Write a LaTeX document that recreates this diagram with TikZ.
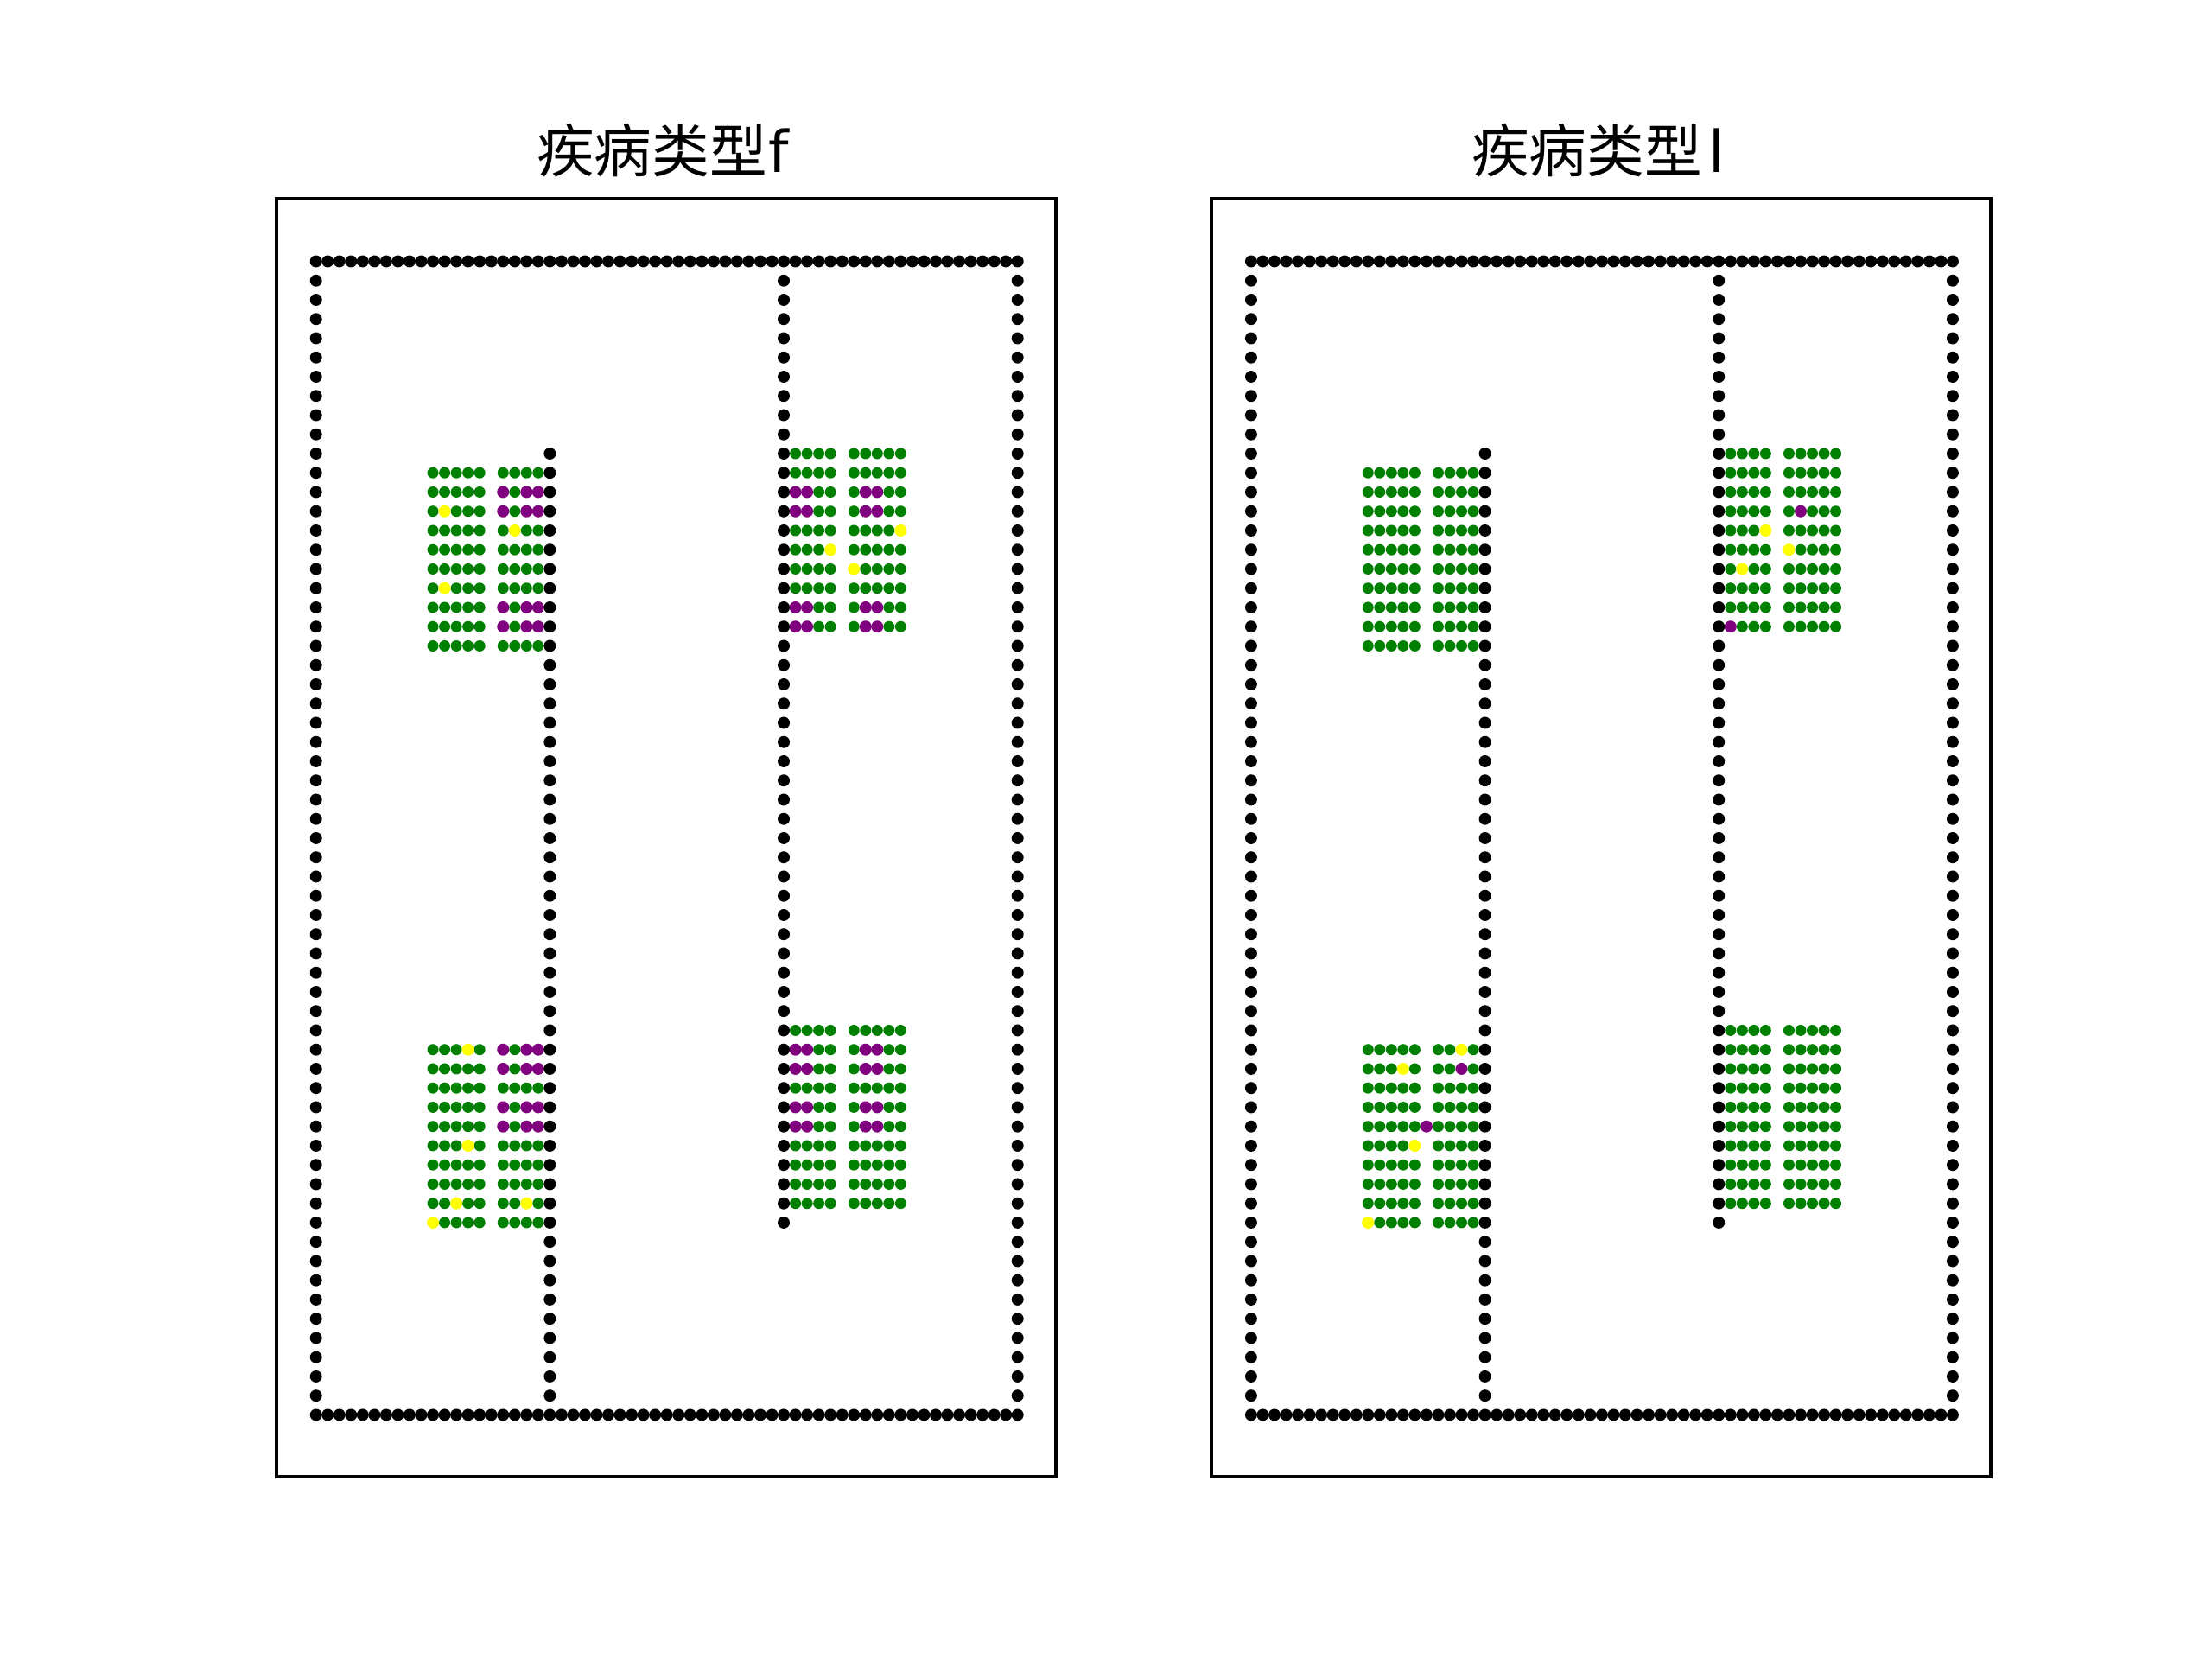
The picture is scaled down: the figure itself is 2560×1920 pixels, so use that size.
\documentclass[tikz,border=0pt]{standalone}
\usepackage{fontspec}
\newfontfamily\cjk{Noto Sans CJK SC}
\newfontfamily\latinpart{DejaVu Sans}
\definecolor{mplgreen}{HTML}{008000}
\definecolor{mplpurple}{HTML}{800080}
\definecolor{mplyellow}{HTML}{FFFF00}
\tikzset{
  frame/.style={draw=black,line width=0.9bp,fill=white},
  titletext/.style={font=\cjk\fontsize{15bp}{18bp}\selectfont,inner sep=0pt,anchor=center},
  gdot/.style={fill=mplgreen,radius=1.46bp},
  pdot/.style={fill=mplpurple,radius=1.57bp},
  ydot/.style={fill=mplyellow,radius=1.57bp},
  kdot/.style={fill=black,radius=1.57bp},
  cell/.style={shift={(#1)},x=3.045bp,y=-5.006bp}
}
% a bay of green dots: columns #1 to #2 and #3 to #4, rows #5 to #6
\newcommand{\baydots}[6]{%
  \foreach \j in {#5,...,#6}{%
    \foreach \i in {#1,...,#2}{\fill[gdot] (\i,\j) circle;}%
    \foreach \i in {#3,...,#4}{\fill[gdot] (\i,\j) circle;}}}
\newcommand{\cells}[2]{\foreach \i/\j in {#2}{\fill[#1] (\i,\j) circle;}}
\newcommand{\walls}{%
  \foreach \i in {0,...,60}{\fill[kdot] (\i,0) circle; \fill[kdot] (\i,60) circle;}
  \foreach \j in {1,...,59}{\fill[kdot] (0,\j) circle; \fill[kdot] (60,\j) circle;}
  \foreach \j in {10,...,59}{\fill[kdot] (20,\j) circle;}
  \foreach \j in {1,...,50}{\fill[kdot] (40,\j) circle;}}
\newcommand{\bays}{%
  \baydots{10}{14}{16}{19}{11}{20}
  \baydots{41}{44}{46}{50}{10}{19}
  \baydots{10}{14}{16}{19}{41}{50}
  \baydots{41}{44}{46}{50}{40}{49}}
\begin{document}
\begin{tikzpicture}[x=0.225bp,y=-0.225bp]
\useasboundingbox (0,0) rectangle (2560,1920);
\fill[white] (0,0) rectangle (2560,1920);
\path[frame] (320,230.4) rectangle (1221.8,1708.8);
\path[frame] (1402.2,230.4) rectangle (2304,1708.8);
\node[titletext] (titleF) at (771,174) {疾病类型\makebox[0.5em][l]{\hspace{0.03em}\latinpart f}};
\node[titletext] (titleL) at (1853,174) {疾病类型\makebox[0.5em][c]{\latinpart l}};
\begin{scope}[cell={365.7,302.5}]
  \bays
  \cells{pdot}{16/12,18/12,19/12,16/13,18/13,19/13,16/18,18/18,19/18,16/19,18/19,19/19,
    41/12,42/12,47/12,48/12,41/13,42/13,47/13,48/13,41/18,42/18,47/18,48/18,41/19,42/19,47/19,48/19,
    16/41,18/41,19/41,16/42,18/42,19/42,16/44,18/44,19/44,16/45,18/45,19/45,
    41/41,42/41,47/41,48/41,41/42,42/42,47/42,48/42,41/44,42/44,47/44,48/44,41/45,42/45,47/45,48/45}
  \cells{ydot}{11/13,17/14,11/17,50/14,44/15,46/16,13/41,13/46,12/49,18/49,10/50}
  \walls
\end{scope}
\begin{scope}[cell={1447.9,302.5}]
  \bays
  \cells{pdot}{18/42,15/45,47/13,41/19}
  \cells{ydot}{18/41,13/42,14/46,10/50,44/14,46/15,42/16}
  \walls
\end{scope}
\end{tikzpicture}
\end{document}
